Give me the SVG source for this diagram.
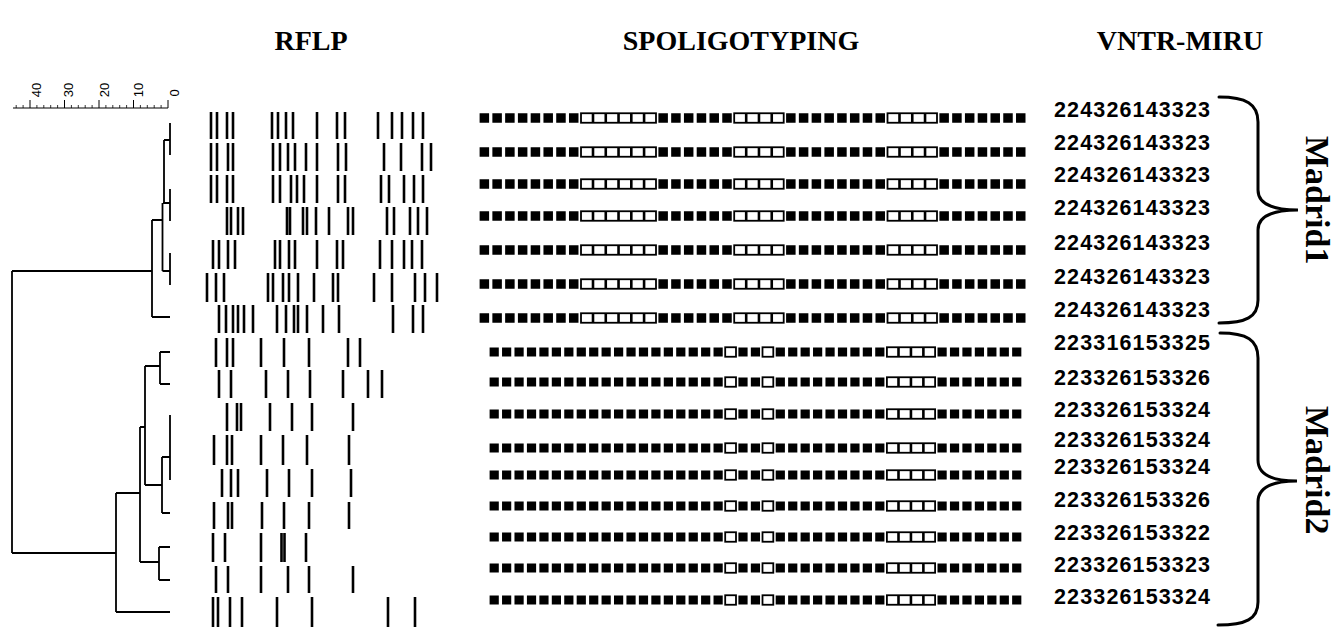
<svg xmlns="http://www.w3.org/2000/svg" xmlns:xlink="http://www.w3.org/1999/xlink" width="1339" height="627" viewBox="0 0 1339 627">
<style>
.hdr{font-family:"Liberation Serif","Times New Roman",serif;font-weight:bold;font-size:28px;fill:#000;text-anchor:middle}
.vn{font-family:"Liberation Sans",Arial,sans-serif;font-weight:bold;font-size:21.5px;fill:#000}
.grp{font-family:"Liberation Serif","Times New Roman",serif;font-weight:bold;font-size:34px;fill:#000}
.sc{font-family:"Liberation Sans",Arial,sans-serif;font-size:13px;fill:#000;text-anchor:middle}
.tree path{fill:none;stroke:#000;stroke-width:1.8}
.band{fill:none;stroke:#000;stroke-width:2.6}
.blk1{stroke:#000;stroke-width:9.5;stroke-dasharray:9.5 3.27}
.blk2{stroke:#000;stroke-width:9.2;stroke-dasharray:9.2 3.24}
.wbox{fill:#fff;stroke:#000;stroke-width:1.8}
.div1{stroke:#000;stroke-width:9.5;stroke-dasharray:2.6 10.17}
.div2{stroke:#000;stroke-width:9.5;stroke-dasharray:2.6 9.84}
.brace{fill:none;stroke:#000;stroke-width:3;stroke-linecap:round}
</style>
<defs>
<g id="sp1">
<line class="blk1" x1="479.6" y1="0" x2="578.6" y2="0"/>
<rect class="wbox" x="581" y="-4.75" width="75" height="9.5"/>
<line class="div1" x1="591.7" y1="0" x2="645.4" y2="0"/>
<line class="blk1" x1="658.4" y1="0" x2="731.8" y2="0"/>
<rect class="wbox" x="734.2" y="-4.75" width="49.5" height="9.5"/>
<line class="div1" x1="744.9" y1="0" x2="773.1" y2="0"/>
<line class="blk1" x1="786.1" y1="0" x2="885.1" y2="0"/>
<rect class="wbox" x="887.5" y="-4.75" width="49.5" height="9.5"/>
<line class="div1" x1="898.2" y1="0" x2="926.4" y2="0"/>
<line class="blk1" x1="939.4" y1="0" x2="1025.5" y2="0"/>
</g>
<g id="sp2">
<line class="blk2" x1="489.6" y1="0" x2="722.8" y2="0"/>
<rect class="wbox" x="725.2" y="-4.75" width="10.8" height="9.5"/>
<line class="blk2" x1="738.4" y1="0" x2="760.1" y2="0"/>
<rect class="wbox" x="762.5" y="-4.75" width="10.8" height="9.5"/>
<line class="blk2" x1="775.7" y1="0" x2="884.5" y2="0"/>
<rect class="wbox" x="886.9" y="-4.75" width="48.2" height="9.5"/>
<line class="div2" x1="897.2" y1="0" x2="924.8" y2="0"/>
<line class="blk2" x1="937.5" y1="0" x2="1021.4" y2="0"/>
</g>
</defs>
<rect width="1339" height="627" fill="#fff"/>

<g id="headers">
<text class="hdr" x="311" y="50">RFLP</text>
<text class="hdr" x="741" y="50">SPOLIGOTYPING</text>
<text class="hdr" x="1180" y="50">VNTR-MIRU</text>
</g>

<g id="scale">
<path d="M13,108H168M168,100V108M133.5,100V108M99,100V108M64.5,100V108M30,100V108" fill="none" stroke="#000" stroke-width="1"/>
<path d="M161.1,105V108M154.2,105V108M147.3,105V108M140.4,105V108M126.6,105V108M119.7,105V108M112.8,105V108M105.9,105V108M92.1,105V108M85.2,105V108M78.3,105V108M71.4,105V108M57.6,105V108M50.7,105V108M43.8,105V108M36.9,105V108M23.1,105V108M16.2,105V108" fill="none" stroke="#000" stroke-width="0.8"/>
<text class="sc" transform="translate(40.5,90) rotate(-90)">40</text>
<text class="sc" transform="translate(73,90) rotate(-90)">30</text>
<text class="sc" transform="translate(108.5,90) rotate(-90)">20</text>
<text class="sc" transform="translate(142.5,90) rotate(-90)">10</text>
<text class="sc" transform="translate(178.5,93) rotate(-90)">0</text>
</g>

<g id="connectors" class="tree">
<path d="M170,123V155M164,140H170M170,189V221M163,203H170M164,140V203M170,253V285M162.5,271H170M162.5,203V271M152,220H163M152,317H170M152,220V317M12,271H152"/>
<path d="M160,352H170M160,384H170M160,352V384M145,366H160M170,415V480M162,457H170M162,513H170M162,457V513M145,485H162M145,366V485M140,427H145M159,547H170M159,580H170M159,547V580M140,562H159M140,427V562M116,493H140M116,612H170M116,493V612M12,553H116M12,271V553"/>
</g>

<g id="rflp" class="band">
<path d="M211,112v27M217,112v27M227,112v27M233,112v27M272,112v27M278,112v27M286,112v27M293,112v27M317,112v27M337,112v27M345,112v27M378,112v27M392,112v27M402,112v27M413,112v27M423,112v27"/>
<path d="M211,143v28M217,143v28M228,143v28M233,143v28M273,143v28M280,143v28M288,143v28M295,143v28M306,143v28M317,143v28M338,143v28M346,143v28M384,143v28M401,143v28M422,143v28M431,143v28"/>
<path d="M211,175v28M217,175v28M227,175v28M233,175v28M273,175v28M280,175v28M291,175v28M297,175v28M304,175v28M317,175v28M338,175v28M345,175v28M381,175v28M389,175v28M404,175v28M414,175v28M423,175v28"/>
<path d="M227,207v28M231,207v28M238,207v28M243,207v28M287,207v28M290,207v28M303,207v28M307,207v28M316,207v28M329,207v28M348,207v28M353,207v28M387,207v28M394,207v28M410,207v28M418,207v28M427,207v28"/>
<path d="M213,240v29M219,240v29M228,240v29M235,240v29M275,240v29M280,240v29M289,240v29M295,240v29M317,240v29M337,240v29M343,240v29M380,240v29M392,240v29M404,240v29M412,240v29M422,240v29"/>
<path d="M207,273v29M216,273v29M224,273v29M268,273v29M273,273v29M283,273v29M289,273v29M298,273v29M314,273v29M333,273v29M338,273v29M374,273v29M392,273v29M415,273v29M425,273v29M437,273v29"/>
<path d="M219,305v28M226,305v28M233,305v28M238,305v28M244,305v28M253,305v28M277,305v28M286,305v28M294,305v28M298,305v28M307,305v28M323,305v28M339,305v28M393,305v28M413,305v28M423,305v28"/>
<path d="M216,338v29M227,338v29M233,338v29M261,338v29M284,338v29M309,338v29M348,338v29M360,338v29"/>
<path d="M219,370v28M231,370v28M266,370v28M288,370v28M310,370v28M343,370v28M368,370v28M382,370v28"/>
<path d="M227,403v28M237,403v28M241,403v28M270,403v28M292,403v28M312,403v28M353,403v28"/>
<path d="M214,435v30M227,435v30M232,435v30M261,435v30M283,435v30M307,435v30M349,435v30"/>
<path d="M222,469v28M231,469v28M238,469v28M267,469v28M289,469v28M312,469v28M351,469v28"/>
<path d="M214,502v27M228,502v27M232,502v27M262,502v27M284,502v27M309,502v27M349,502v27"/>
<path d="M213,533v29M225,533v29M261,533v29M281.5,533v29M284.5,533v29M306,533v29"/>
<path d="M216,566v27M228,566v27M261,566v27M288,566v27M309,566v27M353,566v27"/>
<path d="M213,597v30M218,597v30M230,597v30M242,597v30M277,597v30M312,597v30M388,597v30M415,597v30"/>
</g>

<g id="spoligotyping">
<use xlink:href="#sp1" href="#sp1" y="118"/>
<use xlink:href="#sp1" href="#sp1" y="152"/>
<use xlink:href="#sp1" href="#sp1" y="184"/>
<use xlink:href="#sp1" href="#sp1" y="216"/>
<use xlink:href="#sp1" href="#sp1" y="250"/>
<use xlink:href="#sp1" href="#sp1" y="284"/>
<use xlink:href="#sp1" href="#sp1" y="318"/>
<use xlink:href="#sp2" href="#sp2" y="352"/>
<use xlink:href="#sp2" href="#sp2" y="382"/>
<use xlink:href="#sp2" href="#sp2" y="414"/>
<use xlink:href="#sp2" href="#sp2" y="448"/>
<use xlink:href="#sp2" href="#sp2" y="475"/>
<use xlink:href="#sp2" href="#sp2" y="506"/>
<use xlink:href="#sp2" href="#sp2" y="537"/>
<use xlink:href="#sp2" href="#sp2" y="568"/>
<use xlink:href="#sp2" href="#sp2" y="600"/>
</g>

<g id="vntr">
<text class="vn" x="1054" y="117" textLength="156" lengthAdjust="spacing">224326143323</text>
<text class="vn" x="1054" y="150" textLength="156" lengthAdjust="spacing">224326143323</text>
<text class="vn" x="1054" y="182" textLength="156" lengthAdjust="spacing">224326143323</text>
<text class="vn" x="1054" y="215" textLength="156" lengthAdjust="spacing">224326143323</text>
<text class="vn" x="1054" y="250" textLength="156" lengthAdjust="spacing">224326143323</text>
<text class="vn" x="1054" y="284" textLength="156" lengthAdjust="spacing">224326143323</text>
<text class="vn" x="1054" y="317" textLength="156" lengthAdjust="spacing">224326143323</text>
<text class="vn" x="1054" y="350" textLength="156" lengthAdjust="spacing">223316153325</text>
<text class="vn" x="1054" y="385" textLength="156" lengthAdjust="spacing">223326153326</text>
<text class="vn" x="1054" y="417" textLength="156" lengthAdjust="spacing">223326153324</text>
<text class="vn" x="1054" y="447" textLength="156" lengthAdjust="spacing">223326153324</text>
<text class="vn" x="1054" y="474" textLength="156" lengthAdjust="spacing">223326153324</text>
<text class="vn" x="1054" y="507" textLength="156" lengthAdjust="spacing">223326153326</text>
<text class="vn" x="1054" y="540" textLength="156" lengthAdjust="spacing">223326153322</text>
<text class="vn" x="1054" y="572" textLength="156" lengthAdjust="spacing">223326153323</text>
<text class="vn" x="1054" y="604" textLength="156" lengthAdjust="spacing">223326153324</text>
</g>

<g id="madrid1">
<path class="brace" d="M1219,97C1246,97 1258,104 1258,122L1258,190C1258,203 1272,210 1298,210C1272,210 1258,217 1258,230L1258,300C1258,317 1246,323 1219,323"/>
<text class="grp" transform="translate(1306,136) rotate(90)">Madrid1</text>
</g>
<g id="madrid2">
<path class="brace" d="M1220,333C1247,333 1258,340 1258,358L1258,460C1258,474 1272,481 1297,481C1272,481 1258,488 1258,502L1258,602C1258,619 1246,625 1218,625"/>
<text class="grp" transform="translate(1306,406) rotate(90)">Madrid2</text>
</g>
</svg>
